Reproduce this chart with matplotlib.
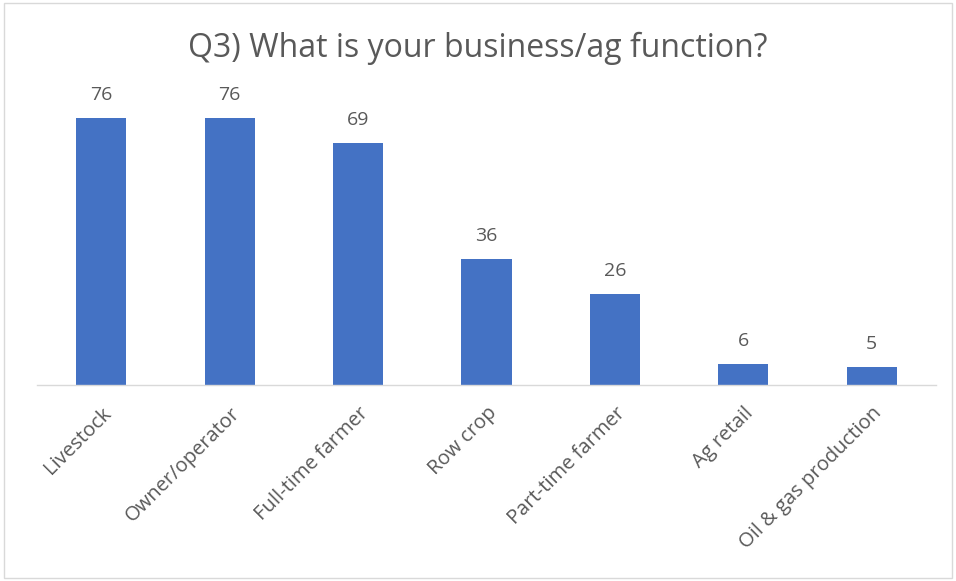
import matplotlib
matplotlib.use("Agg")
import matplotlib.pyplot as plt
from matplotlib.patches import Rectangle

categories = ["Livestock", "Owner/operator", "Full-time farmer", "Row crop",
              "Part-time farmer", "Ag retail", "Oil & gas production"]
values = [76, 76, 69, 36, 26, 6, 5]
title = "Q3) What is your business/ag function?"

plt.rcParams['font.family'] = ['Open Sans', 'DejaVu Sans']
text_color = "#595959"

fig = plt.figure(figsize=(9.56, 5.81), dpi=100)
fig.patches.append(Rectangle((0.004, 0.006), 0.992, 0.988, transform=fig.transFigure,
                             fill=False, edgecolor="#D9D9D9", linewidth=1))
ax = fig.add_axes([0.0387, 0.3373, 0.9403, 0.4837])
x = list(range(len(categories)))
bars = ax.bar(x, values, width=0.39, color="#4472C4", zorder=2)
ax.set_xlim(-0.5, len(categories) - 0.5)
ax.set_ylim(0, 80)
for xi, v in zip(x, values):
    ax.text(xi, v + 4.0, str(v), ha="center", va="bottom", fontsize=14, color=text_color)
ax.set_xticks(x)
ax.set_xticklabels(categories, rotation=45, ha="right", rotation_mode="anchor",
                   fontsize=14.5, color=text_color)
ax.tick_params(axis="x", length=0, pad=13)
ax.set_yticks([])
for s in ["top", "right", "left"]:
    ax.spines[s].set_visible(False)
ax.spines["bottom"].set_color("#D9D9D9")
ax.spines["bottom"].set_linewidth(1)
fig.text(0.5, 0.917, title, ha="center", va="center", fontsize=23, color=text_color)
fig.savefig("out.png", dpi=100)
